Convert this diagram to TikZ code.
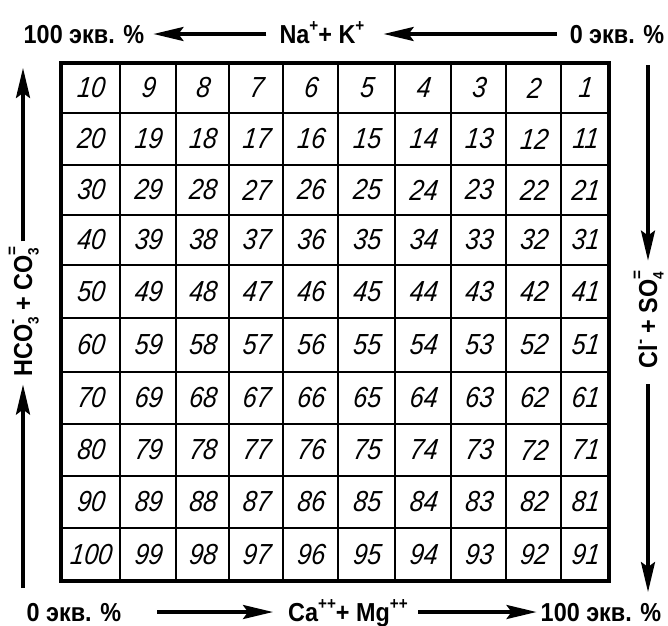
\documentclass[tikz,border=0pt]{standalone}
\usepackage{fontspec}
\usetikzlibrary{arrows.meta,calc}
\newfontfamily\lblfont[FakeStretch=0.9]{Liberation Sans}
\newfontfamily\numfont[FakeStretch=0.86,ItalicFeatures={FakeSlant=0.12}]{Liberation Sans}
\newcommand\ionup[1]{\raisebox{0.45em}{\fontsize{17}{17}\selectfont #1}}
\newcommand\ionst[2]{\makebox[0pt][l]{\raisebox{0.55em}{\fontsize{17}{17}\selectfont #1}}\raisebox{-0.25em}{\fontsize{15}{15}\selectfont #2}}
\tikzset{
  lbl/.style={font=\lblfont\bfseries\fontsize{26}{26}\selectfont, inner sep=0pt, text height=18pt, text depth=0pt},
  num/.style={font=\numfont\itshape\fontsize{29}{29}\selectfont, inner sep=0pt},
  inner/.style={line width=1.8pt},
  outer/.style={line width=3.2pt, line join=miter},
  arr/.style={line width=3.4pt, -{Stealth[length=30pt,width=14pt,inset=5pt]}},
}
\begin{document}
\begin{tikzpicture}[x=1pt,y=-1pt]
\useasboundingbox (0,0) rectangle (668,625);
% grid
\foreach \x in {120,176,229,283,338,395,451,506,561}
  \draw[inner] (\x,63) -- (\x,581);
\foreach \y in {113,165,215,265,318,372,424,476,528}
  \draw[inner] (61,\y) -- (609,\y);
\draw[outer] (61,63) rectangle (609,581);
% numbers
\foreach \ya/\yb [count=\rr from 0] in {63/113,113/165,165/215,215/265,265/318,318/372,372/424,424/476,476/528,528/581} {
  \foreach \xa/\xb [count=\cc from 0] in {61/120,120/176,176/229,229/283,283/338,338/395,395/451,451/506,506/561,561/609} {
    \pgfmathsetmacro\xc{(\xa+\xb)/2}
    \pgfmathsetmacro\yc{(\ya+\yb)/2}
    \pgfmathtruncatemacro\v{10*\rr+10-\cc}
    \node[num] (c\v) at (\xc,\yc) {\v};
  }
}
% top labels
\node[lbl] (t100) at (84,34) {100 экв. \%};
\node[lbl] (tna) at (322,34) {Na\ionup{+}+ K\ionup{+}};
\node[lbl] (t0) at (617,34) {0 экв. \%};
\draw[arr, shorten <=13pt, shorten >=9pt] (tna.west) -- (t100.east);
\draw[arr, shorten <=13pt, shorten >=19pt] (t0.west) -- (tna.east);
% bottom labels
\node[lbl] (b0) at (74,612) {0 экв. \%};
\node[lbl] (bca) at (348,612) {Ca\ionup{++}+ Mg\ionup{++}};
\node[lbl] (b100) at (601,612) {100 экв. \%};
\draw[arr, shorten <=36pt, shorten >=15pt] (b0.east) -- (bca.west);
\draw[arr, shorten <=10pt, shorten >=4pt] (bca.east) -- (b100.west);
% left label
\node[lbl, rotate=90] (lhco) at (23,312) {HCO\ionst{-}{3} + CO\ionst{=}{3}};
\coordinate (lbot) at (23,588);
\coordinate (ltop) at (23,68);
\draw[arr, shorten >=8pt] (lbot) -- (lhco.west);
\draw[arr, shorten <=6pt] (lhco.east) -- (ltop);
% right label
\node[lbl, rotate=90] (lcl) at (648,320) {Cl\ionup{-} + SO\ionst{=}{4}};
\coordinate (rtop) at (648,65);
\coordinate (rbot) at (648,592);
\draw[arr, shorten >=11pt] (rtop) -- (lcl.east);
\draw[arr, shorten <=16pt] (lcl.west) -- (rbot);
\end{tikzpicture}
\end{document}
